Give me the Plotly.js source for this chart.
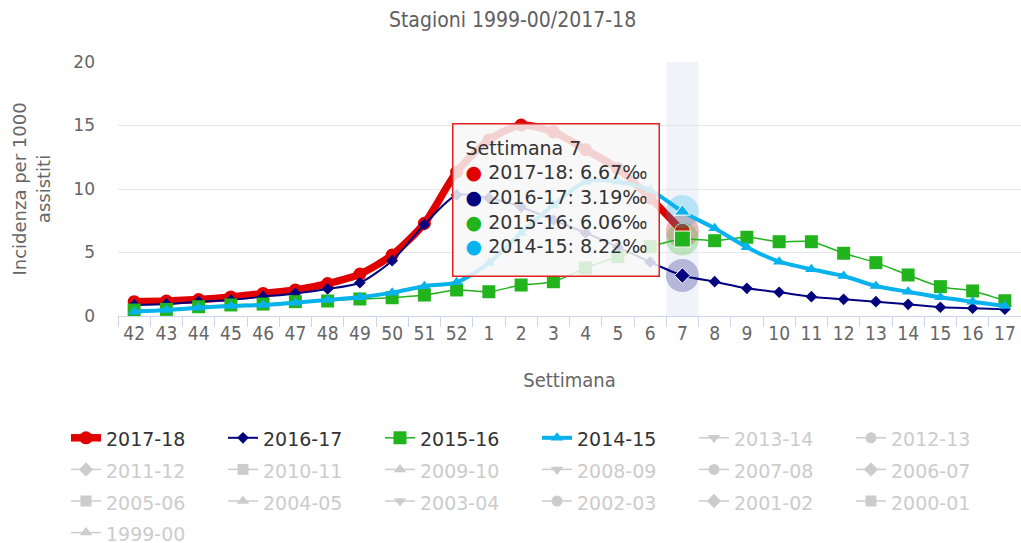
<!DOCTYPE html>
<html><head><meta charset="utf-8">
<script src="https://cdn.plot.ly/plotly-3.0.1.min.js"></script>
<style>html,body{margin:0;padding:0;background:#fff}#chart{width:1021px;height:543px}</style>
</head><body><div id="chart"></div>
<script>
// ---- data ----
const weeks = ['42','43','44','45','46','47','48','49','50','51','52','1','2','3','4','5','6','7','8','9','10','11','12','13','14','15','16','17'];
const season201718 = [1.13,1.18,1.30,1.50,1.78,2.05,2.55,3.30,4.80,7.30,11.34,13.86,15.04,14.50,13.10,11.60,9.30,6.67];
const season201617 = [0.87,0.94,1.13,1.26,1.52,1.78,2.13,2.62,4.36,7.20,9.53,9.29,8.58,7.56,6.54,5.43,4.25,3.19,2.70,2.18,1.87,1.52,1.31,1.13,0.92,0.69,0.61,0.53];
const season201516 = [0.47,0.52,0.73,0.87,0.94,1.13,1.18,1.34,1.44,1.65,2.05,1.91,2.44,2.70,3.78,4.67,5.46,6.06,5.93,6.20,5.85,5.85,4.94,4.20,3.23,2.31,1.97,1.20];
const season201415 = [0.34,0.47,0.65,0.79,0.87,1.05,1.26,1.47,1.84,2.35,2.65,4.17,6.54,8.74,10.57,10.57,9.92,8.22,6.90,5.41,4.28,3.68,3.15,2.36,1.91,1.47,1.13,0.79];
const shownNames = ['2017-18','2016-17','2015-16','2014-15'];
const hiddenNames = ['2013-14','2012-13','2011-12','2010-11','2009-10','2008-09','2007-08','2006-07','2005-06','2004-05','2003-04','2002-03','2001-02','2000-01','1999-00'];
const hoverWeek = '7';

// ---- styles ----
const colors = ['#e00000','#03037f','#22b41c','#08b2ec'];
const symbols = ['circle','diamond','square','triangle-up'];
const lineWidths = [7.5,2,1.5,4];
const markerSizes = [13,9,13,11];
const hiddenSymbols = ['triangle-down','circle','diamond','square','triangle-up'];
const series = [season201718, season201617, season201516, season201415];

const hi = weeks.indexOf(hoverWeek);
const legendSpan = (t, c) => '<span style="font-size:19px' + (c ? ';color:' + c : '') + '">' + t + '</span>';
const condensed = 'DejaVu Sans Condensed, Liberation Sans Narrow, Roboto Condensed, Roboto, sans-serif';

const traces = [];
series.forEach((vals, k) => {
  const xs = weeks.slice(0, vals.length);
  traces.push({x:[weeks[hi]], y:[vals[hi]], type:'scatter', mode:'markers', showlegend:false, hoverinfo:'skip',
    marker:{symbol:'circle', size:33, color:colors[k], opacity:0.25, line:{width:0}}});
  traces.push({x:xs, y:vals, type:'scatter', mode:'lines+markers', name:legendSpan(shownNames[k]),
    line:{color:colors[k], width:lineWidths[k], shape:'spline', smoothing:0.7},
    marker:{symbol:symbols[k], size:markerSizes[k], color:colors[k], line:{width:0}}});
  traces.push({x:[weeks[hi]], y:[vals[hi]], type:'scatter', mode:'markers', showlegend:false, hoverinfo:'skip',
    marker:{symbol:symbols[k], size:markerSizes[k]+3, color:colors[k], line:{width:1, color:'#ffffff'}}});
});
hiddenNames.forEach((n, j) => {
  traces.push({x:[weeks[0]], y:[null], type:'scatter', mode:'lines+markers', name:legendSpan(n, '#cccccc'),
    line:{color:'#cccccc', width:1.5}, marker:{symbol:hiddenSymbols[j % 5], size:11, color:'#cccccc'}});
});

let tip = 'Settimana ' + hoverWeek;
series.forEach((vals, k) => {
  tip += '<br><span style="color:' + colors[k] + '">●</span> ' + shownNames[k] + ': ' + vals[hi].toFixed(2) + '‰';
});

const PL = 118, PR = 1021, PT = 62, PB = 316;
const pw = PR - PL, ph = PB - PT;

const layout = {
  width:1021, height:543,
  margin:{l:PL, r:1021-PR, t:PT, b:543-PB, autoexpand:false},
  paper_bgcolor:'#ffffff', plot_bgcolor:'#ffffff',
  hovermode:false,
  title:{text:'Stagioni 1999-00/2017-18', x:0.502, xref:'container', y:1-20/543, yref:'container', yanchor:'middle', xanchor:'center',
    font:{family:condensed, size:21, color:'#606060'}},
  xaxis:{type:'category', categoryorder:'array', categoryarray:weeks, range:[-0.5, weeks.length-0.5],
    tickson:'boundaries', ticks:'outside', ticklen:10, tickcolor:'#ccd6eb', tickwidth:1,
    showline:true, linecolor:'#ccd6eb', linewidth:1, showgrid:false, zeroline:false, automargin:false,
    tickfont:{family:condensed, size:19, color:'#666666'},
    title:{text:'Settimana', standoff:30, font:{family:condensed, size:20, color:'#666666'}}},
  yaxis:{range:[0,20], tick0:0, dtick:5, showgrid:true, gridcolor:'#e6e6e6', gridwidth:1, zeroline:false, showline:false,
    ticks:'', ticklabelstandoff:22, automargin:false,
    tickfont:{family:'DejaVu Sans, sans-serif', size:17, color:'#666666'},
    title:{text:'Incidenza per 1000<br>assistiti', standoff:18, font:{family:'DejaVu Sans, sans-serif', size:18, color:'#666666'}}},
  legend:{orientation:'h', x:(66-PL)/pw, xanchor:'left', y:(PB-417)/ph, yanchor:'top',
    entrywidth:112, entrywidthmode:'pixels', font:{family:'DejaVu Sans, sans-serif', size:22, color:'#333333'},
    bgcolor:'rgba(0,0,0,0)', borderwidth:0, traceorder:'normal'},
  shapes:[{type:'rect', xref:'x', yref:'paper', x0:hi-0.5, x1:hi+0.5, y0:0, y1:1, fillcolor:'rgba(204,214,235,0.3)', line:{width:0}, layer:'below'}],
  annotations:[{xref:'paper', yref:'paper', x:(452-PL)/pw, y:(PB-123)/ph, xanchor:'left', yanchor:'top',
    text:tip, align:'left', valign:'top', width:181, height:127, showarrow:false,
    bgcolor:'rgba(247,247,247,0.85)', bordercolor:'#e2201e', borderwidth:1.5, borderpad:12,
    font:{family:'DejaVu Sans, sans-serif', size:19, color:'#333333'}}]
};

Plotly.newPlot('chart', traces, layout, {displayModeBar:false, staticPlot:true});
</script>
</body></html>
